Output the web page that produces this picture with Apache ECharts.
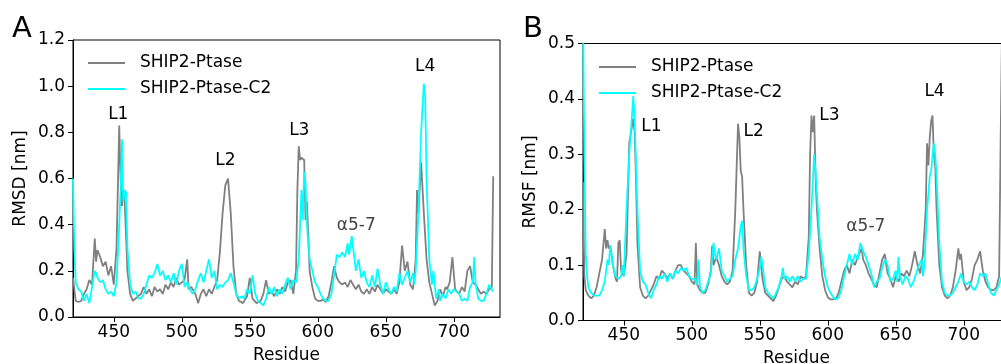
<!DOCTYPE html>
<html>
<head>
<meta charset="utf-8">
<script src="https://cdn.jsdelivr.net/npm/echarts@6/dist/echarts.min.js"></script>
<style>html,body{margin:0;padding:0;background:#fff}#c{width:1001px;height:364px}</style>
</head>
<body>
<div id="c"></div>
<script>
const seriesNames = ['SHIP2-Ptase', 'SHIP2-Ptase-C2'];
const xTicks = [450, 500, 550, 600, 650, 700];

// Panel A: RMSD [nm] vs residue  ([residue, value])
const rmsdPtase = [[420,0.17],[422,0.07],[424,0.065],[426,0.07],[428,0.1],[430,0.12],[432,0.16],[434,0.14],[436,0.34],[437,0.24],[438,0.29],[440,0.26],[442,0.22],[444,0.24],[446,0.18],[448,0.22],[450,0.14],[452,0.3],[454,0.83],[455,0.6],[456,0.48],[457,0.55],[458,0.5],[460,0.2],[462,0.1],[464,0.07],[466,0.08],[468,0.09],[470,0.1],[472,0.13],[474,0.1],[476,0.12],[478,0.09],[480,0.13],[482,0.11],[484,0.12],[486,0.1],[488,0.14],[490,0.12],[492,0.15],[494,0.13],[496,0.17],[498,0.14],[500,0.15],[502,0.16],[504,0.25],[505,0.12],[507,0.13],[510,0.1],[512,0.06],[514,0.1],[516,0.12],[518,0.09],[520,0.12],[522,0.1],[524,0.13],[526,0.16],[528,0.28],[530,0.45],[532,0.57],[534,0.6],[536,0.45],[538,0.22],[540,0.1],[542,0.07],[545,0.06],[548,0.09],[550,0.17],[552,0.08],[555,0.06],[558,0.07],[560,0.1],[562,0.16],[564,0.1],[566,0.11],[568,0.09],[570,0.12],[572,0.1],[574,0.13],[576,0.11],[578,0.15],[580,0.16],[582,0.1],[584,0.2],[585,0.55],[586,0.74],[587,0.68],[588,0.69],[590,0.68],[591,0.42],[592,0.5],[594,0.2],[596,0.13],[598,0.08],[600,0.07],[602,0.07],[604,0.075],[606,0.065],[608,0.09],[610,0.15],[612,0.22],[614,0.17],[616,0.15],[618,0.14],[620,0.15],[622,0.13],[624,0.16],[626,0.14],[628,0.12],[630,0.14],[632,0.11],[634,0.1],[636,0.12],[638,0.1],[640,0.13],[642,0.11],[644,0.14],[646,0.12],[648,0.1],[650,0.12],[652,0.11],[654,0.1],[656,0.12],[658,0.1],[660,0.15],[662,0.31],[664,0.2],[666,0.24],[668,0.14],[670,0.12],[672,0.25],[673,0.55],[674,0.45],[676,0.67],[678,0.45],[680,0.25],[682,0.15],[684,0.1],[686,0.05],[688,0.07],[690,0.12],[692,0.09],[694,0.13],[695,0.12],[697,0.15],[699,0.26],[701,0.12],[704,0.1],[706,0.13],[708,0.11],[710,0.2],[712,0.22],[714,0.15],[716,0.14],[718,0.12],[720,0.1],[722,0.11],[724,0.1],[726,0.12],[728,0.13],[729,0.61]];

const rmsdPtaseC2 = [[420,0.6],[421,0.3],[422,0.15],[424,0.12],[426,0.11],[428,0.07],[430,0.1],[432,0.06],[434,0.13],[436,0.2],[437,0.19],[438,0.17],[440,0.15],[442,0.16],[444,0.12],[446,0.1],[448,0.11],[450,0.09],[452,0.15],[454,0.4],[455,0.55],[456,0.77],[457,0.5],[458,0.55],[459,0.54],[460,0.3],[462,0.14],[464,0.1],[466,0.11],[468,0.08],[470,0.08],[472,0.1],[474,0.14],[476,0.18],[478,0.17],[480,0.19],[482,0.23],[484,0.18],[486,0.2],[488,0.16],[490,0.18],[492,0.15],[494,0.19],[496,0.14],[498,0.2],[500,0.23],[502,0.13],[504,0.15],[506,0.12],[508,0.1],[510,0.12],[512,0.16],[514,0.19],[516,0.15],[518,0.2],[520,0.25],[522,0.17],[524,0.2],[526,0.12],[528,0.14],[530,0.13],[532,0.15],[534,0.16],[536,0.19],[538,0.15],[540,0.1],[542,0.08],[544,0.09],[546,0.08],[548,0.12],[550,0.1],[552,0.18],[554,0.1],[556,0.07],[558,0.06],[560,0.05],[562,0.08],[564,0.13],[566,0.1],[568,0.13],[570,0.09],[572,0.12],[574,0.1],[576,0.14],[578,0.17],[580,0.12],[582,0.16],[584,0.15],[586,0.25],[587,0.4],[588,0.55],[589,0.42],[590,0.63],[591,0.58],[592,0.4],[594,0.25],[596,0.2],[598,0.15],[600,0.13],[602,0.1],[604,0.08],[606,0.07],[608,0.07],[610,0.1],[612,0.18],[614,0.27],[616,0.26],[618,0.28],[620,0.26],[622,0.32],[623,0.27],[625,0.35],[627,0.25],[628,0.2],[630,0.25],[632,0.17],[634,0.2],[636,0.15],[638,0.13],[640,0.18],[642,0.13],[644,0.21],[646,0.14],[648,0.1],[650,0.15],[652,0.12],[654,0.1],[656,0.13],[658,0.11],[660,0.19],[662,0.14],[664,0.17],[666,0.2],[668,0.15],[670,0.19],[671,0.14],[672,0.2],[674,0.45],[676,0.8],[678,1.01],[679,0.95],[680,0.6],[682,0.25],[684,0.14],[685,0.2],[687,0.08],[689,0.12],[690,0.07],[692,0.1],[694,0.08],[696,0.12],[698,0.1],[700,0.12],[702,0.11],[704,0.1],[706,0.07],[708,0.08],[710,0.07],[712,0.13],[714,0.15],[715,0.26],[716,0.15],[718,0.08],[720,0.07],[722,0.07],[724,0.1],[726,0.14],[728,0.12],[729,0.11]];

// Panel B: RMSF [nm] vs residue
const rmsfPtase = [[420,0.25],[421,0.08],[422,0.055],[424,0.045],[426,0.04],[428,0.045],[430,0.06],[432,0.085],[434,0.11],[436,0.165],[437,0.13],[438,0.145],[439,0.13],[440,0.135],[442,0.1],[444,0.075],[445,0.07],[446,0.14],[447,0.145],[448,0.09],[450,0.08],[452,0.12],[454,0.32],[456,0.35],[457,0.365],[458,0.34],[459,0.25],[460,0.14],[462,0.06],[464,0.045],[466,0.04],[468,0.045],[470,0.055],[472,0.065],[474,0.08],[476,0.075],[478,0.09],[480,0.085],[482,0.075],[484,0.085],[486,0.075],[488,0.09],[490,0.1],[492,0.1],[494,0.09],[496,0.085],[498,0.08],[500,0.07],[502,0.065],[503,0.14],[504,0.065],[506,0.055],[508,0.05],[510,0.05],[512,0.065],[514,0.09],[515,0.135],[516,0.1],[518,0.115],[520,0.1],[522,0.08],[524,0.07],[526,0.065],[528,0.07],[530,0.09],[532,0.2],[534,0.355],[535,0.33],[536,0.27],[537,0.26],[538,0.2],[540,0.1],[542,0.05],[544,0.045],[546,0.05],[548,0.07],[550,0.125],[551,0.1],[552,0.075],[554,0.05],[556,0.045],[558,0.04],[560,0.035],[562,0.045],[564,0.06],[566,0.075],[568,0.08],[570,0.07],[572,0.065],[574,0.06],[576,0.07],[578,0.065],[580,0.08],[582,0.075],[584,0.08],[586,0.15],[587,0.3],[588,0.37],[589,0.34],[590,0.37],[591,0.26],[592,0.2],[594,0.13],[596,0.08],[598,0.055],[600,0.042],[602,0.038],[604,0.038],[606,0.04],[608,0.05],[610,0.07],[612,0.09],[614,0.1],[616,0.085],[618,0.11],[620,0.1],[622,0.115],[624,0.125],[625,0.13],[626,0.11],[628,0.1],[630,0.085],[632,0.075],[634,0.065],[636,0.06],[638,0.085],[640,0.11],[642,0.12],[643,0.1],[644,0.085],[646,0.075],[648,0.06],[650,0.08],[652,0.07],[654,0.085],[656,0.08],[658,0.09],[660,0.08],[662,0.1],[664,0.125],[666,0.1],[668,0.085],[670,0.12],[672,0.2],[673,0.32],[674,0.28],[675,0.33],[676,0.36],[677,0.37],[678,0.3],[679,0.28],[680,0.2],[682,0.1],[684,0.06],[686,0.045],[688,0.04],[690,0.045],[692,0.06],[694,0.09],[696,0.13],[697,0.11],[698,0.12],[700,0.07],[702,0.055],[704,0.06],[706,0.075],[708,0.1],[710,0.11],[712,0.125],[714,0.09],[716,0.07],[718,0.06],[720,0.055],[722,0.055],[724,0.06],[726,0.08],[727,0.3],[728,0.5]];

const rmsfPtaseC2 = [[420,0.55],[421,0.3],[422,0.12],[423,0.08],[424,0.06],[426,0.05],[428,0.045],[430,0.045],[432,0.045],[434,0.055],[436,0.07],[438,0.11],[439,0.1],[440,0.135],[441,0.12],[442,0.1],[444,0.08],[446,0.075],[448,0.08],[449,0.1],[450,0.08],[452,0.2],[454,0.3],[456,0.37],[457,0.405],[458,0.36],[459,0.36],[460,0.2],[462,0.09],[464,0.07],[466,0.065],[468,0.05],[470,0.04],[472,0.055],[474,0.065],[476,0.08],[478,0.075],[480,0.085],[482,0.07],[484,0.085],[486,0.075],[488,0.09],[490,0.085],[492,0.095],[494,0.09],[496,0.095],[498,0.08],[500,0.075],[502,0.075],[504,0.065],[505,0.11],[506,0.06],[508,0.05],[510,0.055],[512,0.07],[514,0.085],[516,0.14],[517,0.12],[518,0.11],[520,0.13],[522,0.09],[524,0.08],[526,0.07],[528,0.075],[530,0.08],[532,0.11],[534,0.13],[536,0.17],[537,0.18],[538,0.13],[540,0.08],[542,0.055],[544,0.055],[546,0.06],[548,0.075],[550,0.095],[551,0.115],[552,0.1],[554,0.06],[556,0.05],[558,0.045],[560,0.04],[562,0.05],[564,0.06],[566,0.08],[567,0.095],[568,0.075],[570,0.08],[572,0.07],[574,0.08],[576,0.07],[578,0.08],[580,0.07],[582,0.075],[584,0.075],[586,0.12],[588,0.2],[589,0.25],[590,0.3],[591,0.27],[592,0.27],[594,0.15],[596,0.11],[598,0.08],[600,0.06],[602,0.05],[604,0.042],[606,0.038],[608,0.042],[610,0.055],[612,0.08],[614,0.1],[616,0.12],[618,0.1],[620,0.12],[622,0.11],[624,0.14],[626,0.125],[628,0.115],[630,0.1],[632,0.085],[634,0.06],[636,0.07],[638,0.075],[640,0.095],[642,0.11],[644,0.1],[646,0.07],[648,0.075],[650,0.09],[651,0.07],[652,0.115],[653,0.08],[655,0.065],[657,0.08],[659,0.075],[661,0.06],[663,0.07],[665,0.085],[667,0.1],[669,0.11],[670,0.08],[671,0.1],[673,0.2],[675,0.26],[676,0.27],[678,0.32],[679,0.3],[680,0.26],[682,0.14],[684,0.07],[686,0.05],[688,0.045],[690,0.045],[692,0.05],[694,0.06],[696,0.07],[698,0.085],[700,0.07],[702,0.065],[704,0.07],[706,0.06],[708,0.055],[710,0.065],[712,0.085],[714,0.08],[716,0.085],[718,0.065],[720,0.05],[722,0.045],[724,0.055],[726,0.065],[728,0.08]];

// Region annotations [label, residue, value]
const annotationsA = [['L1',453.3,0.875],['L2',532,0.676],['L3',586.4,0.806],['α5-7',628.3,0.395],['L4',679,1.087]];
const annotationsB = [['L1',470.3,0.35],['L2',545.5,0.341],['L3',601.2,0.369],['α5-7',628,0.17],['L4',678.5,0.413]];

const FONT = 'DejaVu Sans';
const GRAY = '#808080';
const CYAN = '#00ffff';

function mkGrid(left, top) {
  return {left: left, top: top, width: 427, height: 277, show: true, borderColor: '#000', borderWidth: 1, backgroundColor: 'transparent', containLabel: false, outerBoundsMode: 'none'};
}
function mkX(idx) {
  return {
    type: 'value', gridIndex: idx, min: 420, max: 734, interval: 50,
    name: 'Residue', nameLocation: 'middle', nameGap: 30,
    nameTextStyle: {fontFamily: FONT, fontSize: 17, color: '#000'},
    axisLine: {show: true, onZero: false, lineStyle: {color: '#000', width: 1}},
    axisTick: {show: true, inside: false, length: 5, lineStyle: {color: '#000'}, customValues: xTicks},
    axisLabel: {fontFamily: FONT, fontSize: 17, color: '#000', margin: 7, customValues: xTicks},
    splitLine: {show: false}
  };
}
function mkY(idx, max, interval, name) {
  return {
    type: 'value', gridIndex: idx, min: 0, max: max, interval: interval,
    name: name, nameLocation: 'middle', nameGap: 44,
    nameTextStyle: {fontFamily: FONT, fontSize: 17, color: '#000'},
    axisLine: {show: true, lineStyle: {color: '#000', width: 1}},
    axisTick: {show: true, inside: false, length: 5, lineStyle: {color: '#000'}},
    axisLabel: {fontFamily: FONT, fontSize: 17, color: '#000', margin: 8, formatter: v => v.toFixed(1)},
    splitLine: {show: false}
  };
}
function mkMarks(arr) {
  return {
    symbol: 'circle', symbolSize: 0, silent: true,
    itemStyle: {color: 'transparent'},
    label: {show: true, position: 'inside', formatter: '{b}', fontFamily: FONT, fontSize: 17, color: '#000'},
    data: arr.map(a => ({name: a[0], coord: [a[1], a[2]], label: a[0].startsWith('α') ? {color: '#444'} : {}}))
  };
}
function mkSeries(name, data, idx, color, marks) {
  const s = {
    name: name, type: 'line', xAxisIndex: idx, yAxisIndex: idx, data: data,
    showSymbol: false, symbol: 'none', clip: true,
    lineStyle: {color: color, width: 1.8}, itemStyle: {color: color}
  };
  if (marks) s.markPoint = mkMarks(marks);
  return s;
}
function mkLegend(left, top) {
  return {
    data: seriesNames, orient: 'vertical', left: left, top: top, icon: 'rect', padding: 0,
    itemWidth: 37, itemHeight: 2, itemGap: 6, selectedMode: false,
    textStyle: {fontFamily: FONT, fontSize: 17, color: '#000', lineHeight: 20, padding: [0, 0, 0, 10]}
  };
}

const chart = echarts.init(document.getElementById('c'), null, {renderer: 'canvas'});
chart.setOption({
  animation: false,
  backgroundColor: '#fff',
  grid: [mkGrid(73, 40), mkGrid(583, 43.5)],
  xAxis: [mkX(0), mkX(1)],
  yAxis: [mkY(0, 1.2, 0.2, 'RMSD [nm]'), mkY(1, 0.5, 0.1, 'RMSF [nm]')],
  legend: [mkLegend(88, 53), mkLegend(599, 57)],
  graphic: [
    {type: 'text', left: 12, top: 15, style: {text: 'A', fontFamily: FONT, fontSize: 29, fill: '#000'}},
    {type: 'text', left: 523, top: 15, style: {text: 'B', fontFamily: FONT, fontSize: 29, fill: '#000'}}
  ],
  series: [
    mkSeries(seriesNames[0], rmsdPtase, 0, GRAY, annotationsA),
    mkSeries(seriesNames[1], rmsdPtaseC2, 0, CYAN),
    mkSeries(seriesNames[0], rmsfPtase, 1, GRAY, annotationsB),
    mkSeries(seriesNames[1], rmsfPtaseC2, 1, CYAN)
  ]
});
</script>
</body>
</html>
